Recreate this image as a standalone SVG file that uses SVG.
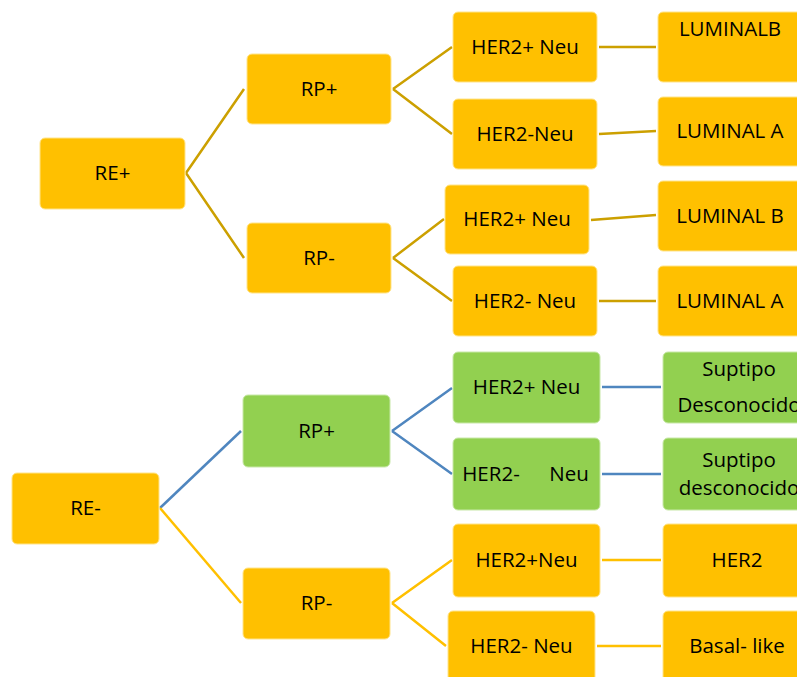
<svg xmlns="http://www.w3.org/2000/svg" width="797" height="677" viewBox="0 0 797 677">
<style>
.o{fill:#FFC000;stroke:#FFE48A;stroke-width:1}
.g{fill:#92D050;stroke:#C8E8A8;stroke-width:1}
text{font-family:"Open Sans","Noto Sans","DejaVu Sans",sans-serif;font-size:20.5px;fill:#000;text-anchor:middle}
.cd{stroke:#CCA000;stroke-width:2.5;fill:none}
.cb{stroke:#4F86BF;stroke-width:2.5;fill:none}
.cy{stroke:#FFC000;stroke-width:2.5;fill:none}
</style>
<rect width="797" height="677" fill="#fff"/>
<g id="connectors">
<path class="cd" d="M186,173 L244,89 M186,173 L244,258"/>
<path class="cd" d="M393,89 L452,47 M393,89 L452,134"/>
<path class="cd" d="M393,258 L444,219 M393,258 L452,301"/>
<path class="cd" d="M599,47 L656,47 M599,134 L656,131 M591,220 L656,215 M599,301 L656,301"/>
<path class="cb" d="M160,508 L241,431"/>
<path class="cy" d="M160,508 L241,603"/>
<path class="cb" d="M392,431 L452,388 M392,431 L452,474"/>
<path class="cy" d="M392,603 L452,560 M392,603 L446,646"/>
<path class="cb" d="M602,387 L661,387 M602,474 L661,474"/>
<path class="cy" d="M602,560 L661,560 M597,646 L661,646"/>
</g>
<g id="re-pos"><rect class="o" x="40" y="138" width="145" height="71" rx="5"/><text x="112.5" y="180">RE+</text></g>
<g id="rp-pos-1"><rect class="o" x="247" y="54" width="144" height="70" rx="5"/><text x="319" y="96">RP+</text></g>
<g id="rp-neg-1"><rect class="o" x="247" y="223" width="144" height="70" rx="5"/><text x="319" y="265">RP-</text></g>
<g id="her2-pos-1"><rect class="o" x="453" y="12" width="144" height="70" rx="5"/><text x="525" y="54">HER2+ Neu</text></g>
<g id="her2-neg-1"><rect class="o" x="453" y="99" width="144" height="70" rx="5"/><text x="525" y="141">HER2-Neu</text></g>
<g id="her2-pos-2"><rect class="o" x="445" y="185" width="144" height="69" rx="5"/><text x="517" y="226">HER2+ Neu</text></g>
<g id="her2-neg-2"><rect class="o" x="453" y="266" width="144" height="70" rx="5"/><text x="525" y="308">HER2- Neu</text></g>
<g id="luminal-b-1"><rect class="o" x="658" y="12" width="148" height="70" rx="5"/><text x="730" y="36">LUMINALB</text></g>
<g id="luminal-a-1"><rect class="o" x="658" y="97" width="148" height="69" rx="5"/><text x="730" y="138">LUMINAL A</text></g>
<g id="luminal-b-2"><rect class="o" x="658" y="181" width="148" height="70" rx="5"/><text x="730" y="223">LUMINAL B</text></g>
<g id="luminal-a-2"><rect class="o" x="658" y="266" width="148" height="70" rx="5"/><text x="730" y="308">LUMINAL A</text></g>
<g id="re-neg"><rect class="o" x="12" y="473" width="147" height="71" rx="5"/><text x="85.5" y="515">RE-</text></g>
<g id="rp-pos-2"><rect class="g" x="243" y="395" width="147" height="72" rx="5"/><text x="316.5" y="438">RP+</text></g>
<g id="rp-neg-2"><rect class="o" x="243" y="568" width="147" height="71" rx="5"/><text x="316.5" y="610">RP-</text></g>
<g id="her2-pos-3"><rect class="g" x="453" y="352" width="147" height="71" rx="5"/><text x="526.5" y="394">HER2+ Neu</text></g>
<g id="her2-neg-3"><rect class="g" x="453" y="438" width="147" height="72" rx="5"/><text y="481"><tspan x="491">HER2-</tspan><tspan x="569">Neu</tspan></text></g>
<g id="her2-pos-4"><rect class="o" x="453" y="524" width="147" height="73" rx="5"/><text x="526.5" y="567">HER2+Neu</text></g>
<g id="her2-neg-4"><rect class="o" x="448" y="611" width="147" height="72" rx="5"/><text x="521.5" y="653">HER2- Neu</text></g>
<g id="subtipo-1"><rect class="g" x="663" y="352" width="148" height="71" rx="5"/><text x="739" y="376">Suptipo</text><text x="739" y="412">Desconocido</text></g>
<g id="subtipo-2"><rect class="g" x="663" y="438" width="148" height="72" rx="5"/><text x="739" y="467">Suptipo</text><text x="739" y="495">desconocido</text></g>
<g id="her2-type"><rect class="o" x="663" y="524" width="148" height="73" rx="5"/><text x="737" y="567">HER2</text></g>
<g id="basal-like"><rect class="o" x="663" y="611" width="148" height="72" rx="5"/><text x="737" y="653">Basal- like</text></g>
</svg>
